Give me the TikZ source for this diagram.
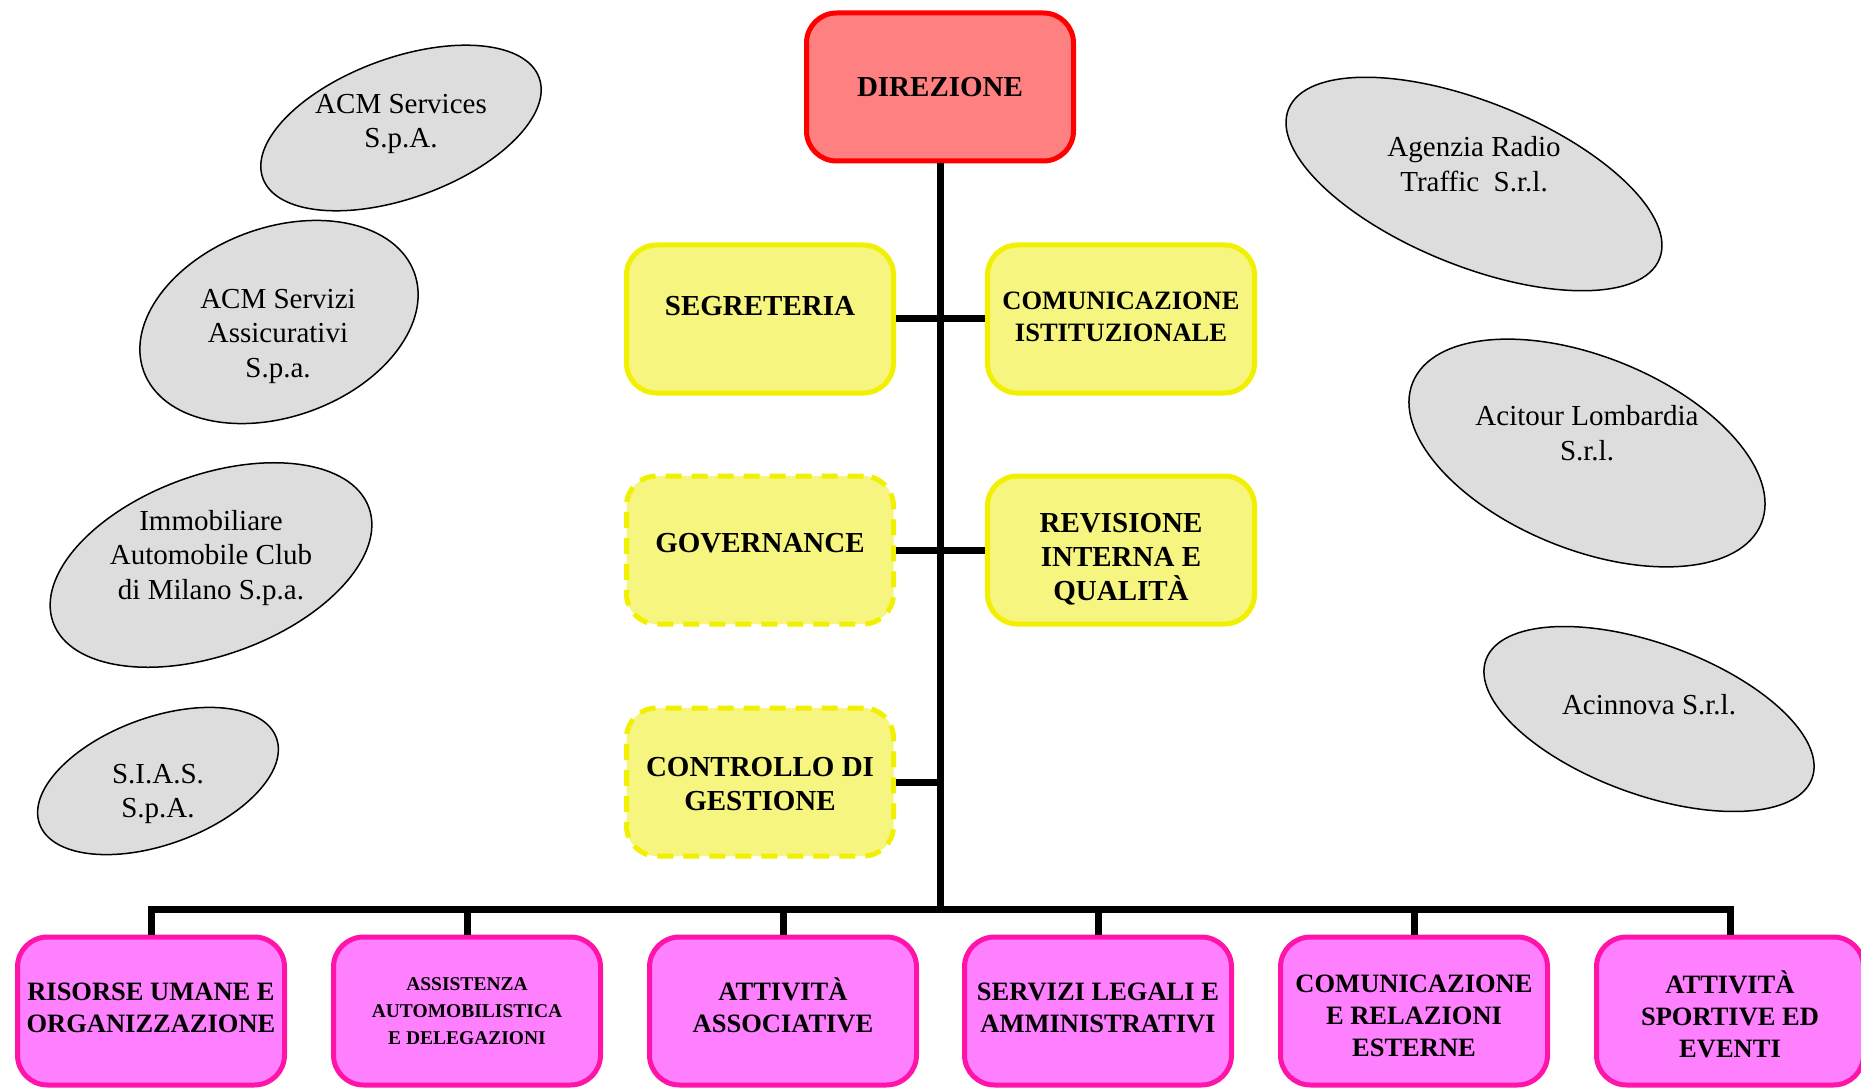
\documentclass[tikz,border=0pt]{standalone}
\usepackage{fontspec}
\setmainfont{Liberation Serif}
\usetikzlibrary{shapes.geometric}

\definecolor{dirfill}{RGB}{255,128,128}
\definecolor{dirline}{RGB}{255,0,0}
\definecolor{stafffill}{RGB}{245,245,128}
\definecolor{staffline}{RGB}{240,240,0}
\definecolor{unitfill}{RGB}{255,128,255}
\definecolor{unitline}{RGB}{255,20,170}
\definecolor{compfill}{RGB}{221,221,221}

\tikzset{
  box/.style={rectangle, rounded corners=30pt, minimum width=267pt, minimum height=148pt,
    inner sep=4pt, align=center, line width=5pt, font=\fontsize{29}{34}\selectfont\bfseries},
  headbox/.style={box, draw=dirline, fill=dirfill},
  staffbox/.style={box, draw=staffline, fill=stafffill},
  staffdash/.style={staffbox, dash pattern=on 16pt off 10pt},
  unitbox/.style={box, draw=unitline, fill=unitfill, font=\fontsize{26.5}{32}\selectfont\bfseries},
  company/.style={ellipse, draw=black, fill=compfill, line width=1.5pt, inner sep=0pt},
  comptext/.style={align=center, font=\fontsize{29}{34.5}\selectfont},
  link/.style={draw=black, line width=7pt}
}

\begin{document}
\begin{tikzpicture}[x=1pt,y=-1pt]
\useasboundingbox (0,0) rectangle (1861,1091);

% direction and staff
  \node[headbox] (dir) at (940,87) {DIREZIONE};
  \node[staffbox, text depth=27pt] (segr) at (760,319) {SEGRETERIA};
  \node[staffbox, font=\fontsize{26.5}{32}\selectfont\bfseries] (comist) at (1121,319) {COMUNICAZIONE\\ISTITUZIONALE\rule[-4pt]{0pt}{4pt}};
  \node[staffdash, text depth=15pt] (gov) at (760,550) {GOVERNANCE};
  \node[staffbox] (revq) at (1121,550) {\rule{0pt}{38pt}REVISIONE\\INTERNA E\\QUALITÀ};
  \node[staffdash] (ctrl) at (760,782) {\rule{0pt}{23pt}CONTROLLO DI\\GESTIONE};

% units
  \node[unitbox] (ru) at (151,1011) {RISORSE UMANE E\\ORGANIZZAZIONE\rule[-7pt]{0pt}{7pt}};
  \node[unitbox, font=\fontsize{19.5}{27}\selectfont\bfseries] (ass) at (467,1011) {ASSISTENZA\\AUTOMOBILISTICA\\E DELEGAZIONI};
  \node[unitbox] (attas) at (783,1011) {ATTIVITÀ\\ASSOCIATIVE\rule[-12pt]{0pt}{12pt}};
  \node[unitbox] (legal) at (1098,1011) {SERVIZI LEGALI E\\AMMINISTRATIVI\rule[-7pt]{0pt}{7pt}};
  \node[unitbox] (comrel) at (1414,1011) {\rule{0pt}{28pt}COMUNICAZIONE\\E RELAZIONI\\ESTERNE};
  \node[unitbox] (sport) at (1730,1011) {\rule{0pt}{30pt}ATTIVITÀ\\SPORTIVE ED\\EVENTI};

% connectors
  \coordinate (hub) at (940,909);
  \draw[link] (dir) -- (hub);
  \draw[link] (segr) -- (comist);
  \draw[link] (gov) -- (revq);
  \draw[link] (ctrl) -- (ctrl -| hub);
  \draw[link] (ru.north) |- (hub) -| (sport.north);
  \foreach \u in {ass,attas,legal,comrel}
    \draw[link] (\u.north) -- (\u.north |- hub);

% companies, left
  \node[company, rotate=20, minimum width=294pt, minimum height=140pt] (acms) at (401,128) {};
  \node[comptext] (acms-t) at (401,124) {ACM Services\\S.p.A.};
  \node[company, rotate=20, minimum width=288pt, minimum height=189pt] (acmsa) at (279,322) {};
  \node[comptext] (acmsa-t) at (278,336) {ACM Servizi\\Assicurativi\\S.p.a.};
  \node[company, rotate=20, minimum width=336pt, minimum height=180pt] (imm) at (211,565) {};
  \node[comptext] (imm-t) at (211,558) {Immobiliare\\Automobile Club\\di Milano S.p.a.};
  \node[company, rotate=20, minimum width=252pt, minimum height=127pt] (sias) at (158,781) {};
  \node[comptext] (sias-t) at (158,794) {S.I.A.S.\\S.p.A.};

% companies, right
  \node[company, rotate=-22, minimum width=400pt, minimum height=164pt] (art) at (1474,184) {};
  \node[comptext] (art-t) at (1474,164) {Agenzia Radio\\Traffic\ \ S.r.l.};
  \node[company, rotate=-22, minimum width=376pt, minimum height=193pt] (acit) at (1587,453) {};
  \node[comptext] (acit-t) at (1587,433) {Acitour Lombardia\\S.r.l.};
  \node[company, rotate=-20, minimum width=347pt, minimum height=151pt] (acin) at (1649,719) {};
  \node[comptext] (acin-t) at (1649,705) {Acinnova S.r.l.};

\end{tikzpicture}
\end{document}
